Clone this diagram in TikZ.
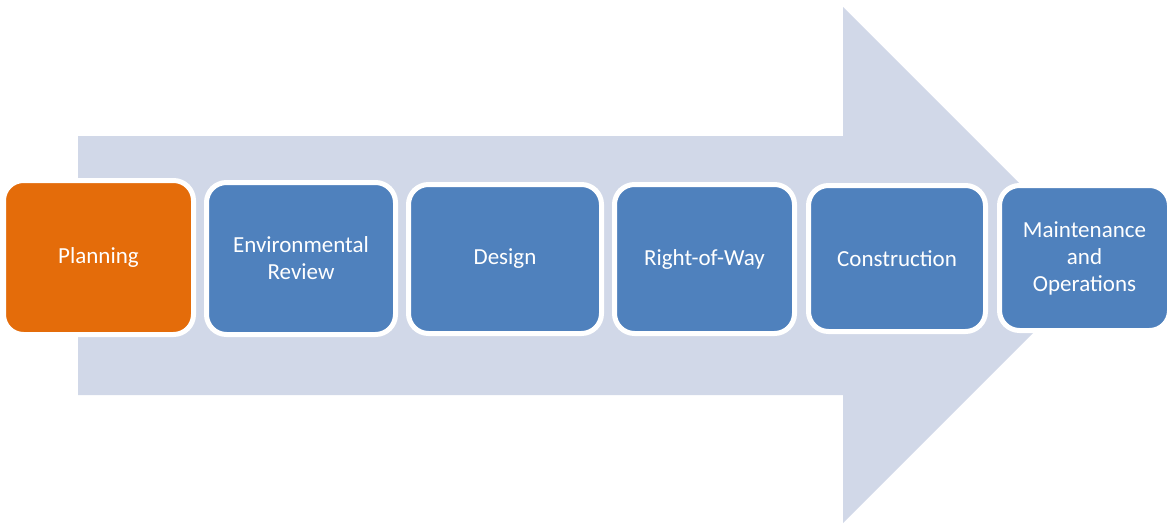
\documentclass[tikz,border=0pt]{standalone}
\usepackage{fontspec}
\setmainfont{Carlito}
\definecolor{arrowblue}{HTML}{D1D8E8}
\definecolor{boxblue}{HTML}{4F81BD}
\definecolor{boxorange}{HTML}{E46C0A}
\begin{document}
\begin{tikzpicture}[x=1pt,y=-1pt,
  stage/.style={draw=white, line width=5pt, rounded corners=20pt, text=white,
    font=\fontsize{23}{27}\selectfont, align=center, inner sep=0pt}]
\useasboundingbox (0,0) rectangle (1167,525);
\clip (0,0) rectangle (1167,525);
\fill[arrowblue] (78,136) -- (843,136) -- (843,7) -- (1101,265) -- (843,523) -- (843,395) -- (78,395) -- cycle;
\node[stage, fill=boxorange, minimum width=190pt, minimum height=154pt] (planning) at (98.5,257.5) {Planning};
\node[stage, fill=boxblue, minimum width=189pt, minimum height=152pt] (env) at (301,258.5) {Environmental\\Review};
\node[stage, fill=boxblue, minimum width=193pt, minimum height=149pt] (design) at (505,259) {Design};
\node[stage, fill=boxblue, minimum width=180pt, minimum height=149pt] (row) at (704.5,259) {Right-of-Way};
\node[stage, fill=boxblue, minimum width=177pt, minimum height=146pt] (constr) at (897,258.5) {Construction};
\node[stage, fill=boxblue, minimum width=170pt, minimum height=145pt] (maint) at (1084.5,258) {Maintenance\\and\\Operations};
\end{tikzpicture}
\end{document}
